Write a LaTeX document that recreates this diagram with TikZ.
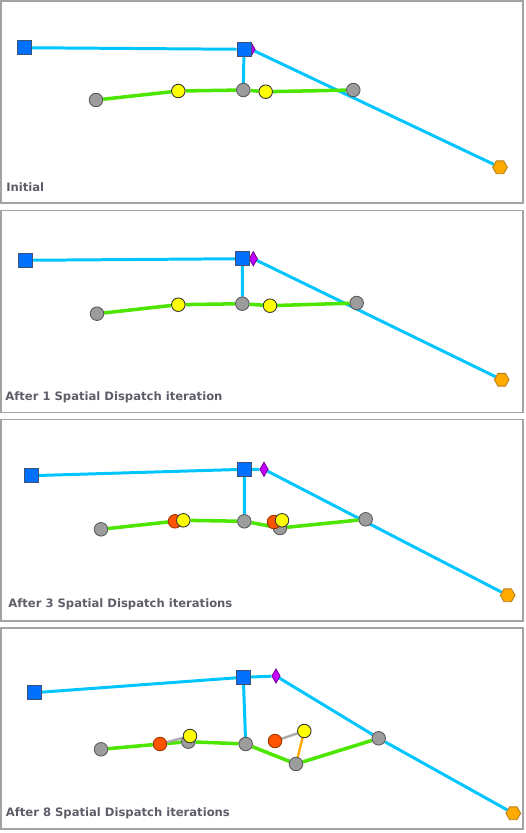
\documentclass[tikz,border=0pt]{standalone}
\usepackage{fontspec}
\setsansfont{DejaVu Sans}
\usetikzlibrary{shapes.geometric,backgrounds}
\definecolor{frame}{HTML}{A3A3A3}
\definecolor{caption}{HTML}{5E5E6A}
\definecolor{sqblue}{HTML}{0070FF}
\definecolor{sqedge}{HTML}{3E5276}
\definecolor{link}{HTML}{00C5FF}
\definecolor{route}{HTML}{4CE600}
\definecolor{stop}{HTML}{9C9C9C}
\definecolor{stopedge}{HTML}{5A5A5A}
\definecolor{pick}{HTML}{FFFF00}
\definecolor{drop}{HTML}{FF5500}
\definecolor{amber}{HTML}{FFAA00}
\definecolor{amberedge}{HTML}{B8801C}
\definecolor{violet}{HTML}{C500FF}

\begin{document}
\begin{tikzpicture}[x=0.02cm,y=-0.02cm,
  font=\sffamily\bfseries\fontsize{6.6}{7.8}\selectfont,text=caption,
  box/.style={draw=frame,line width=1.1pt},
  lbl/.style={anchor=base west,inner sep=0pt},
  sq/.style={rectangle,fill=sqblue,draw=sqedge,line width=0.5pt,
    minimum size=7.9pt,inner sep=0pt},
  dot/.style={circle,line width=0.5pt,minimum size=7.7pt,inner sep=0pt},
  gnode/.style={dot,fill=stop,draw=stopedge},
  ynode/.style={dot,fill=pick,draw=black!80},
  rnode/.style={dot,fill=drop,draw=drop!60!black},
  hexa/.style={regular polygon,regular polygon sides=6,fill=amber,
    draw=amberedge,line width=0.5pt,minimum size=8.4pt,inner sep=0pt},
  dia/.style={diamond,fill=violet,draw=violet!60!black,line width=0.5pt,
    minimum width=4.8pt,minimum height=8.2pt,inner sep=0pt},
  blink/.style={link,line width=1.7pt},
  glink/.style={route,line width=2pt},
  slink/.style={stop!85!white,line width=1.4pt},
  olink/.style={amber,line width=1.4pt}]
  \useasboundingbox (0,0) rectangle (525,833);

  % Initial
  \draw[box] (1,1) rectangle (523.3,203);
  \node[dia] (dA) at (251,49.3) {};
  \node[sq] (sA1) at (24,47.7) {};
  \node[sq] (sA2) at (244,49.3) {};
  \node[hexa] (hA) at (500,167.3) {};
  \node[gnode] (gA1) at (96,100) {};
  \node[ynode] (yA1) at (178.3,91) {};
  \node[gnode] (gA2) at (243.3,90) {};
  \node[ynode] (yA2) at (265.7,91.7) {};
  \node[gnode] (gA3) at (353.3,90) {};
  \node[lbl] (cA) at (6,191.5) {Initial};
  \begin{scope}[on background layer]
    \draw[blink] (sA1) -- (sA2) -- (gA2);
    \draw[blink] (dA) -- (hA);
    \draw[glink] (gA1) -- (yA1) -- (gA2) -- (yA2) -- (gA3);
  \end{scope}

  % After 1
  \draw[box] (1,210.5) rectangle (523.3,412.5);
  \node[dia] (dB) at (253.3,258.7) {};
  \node[sq] (sB1) at (25,260.3) {};
  \node[sq] (sB2) at (242.3,258.7) {};
  \node[hexa] (hB) at (501.7,379.7) {};
  \node[gnode] (gB1) at (97,313.7) {};
  \node[ynode] (yB1) at (178.3,304.7) {};
  \node[gnode] (gB2) at (242.3,303.7) {};
  \node[ynode] (yB2) at (270,305.7) {};
  \node[gnode] (gB3) at (356.7,303) {};
  \node[lbl] (cB) at (5,400) {After 1 Spatial Dispatch iteration};
  \begin{scope}[on background layer]
    \draw[blink] (sB1) -- (sB2) -- (gB2);
    \draw[blink] (dB) -- (hB);
    \draw[glink] (gB1) -- (yB1) -- (gB2) -- (yB2) -- (gB3);
  \end{scope}

  % After 3
  \draw[box] (1,419.5) rectangle (523.3,621);
  \node[dia] (dC) at (264,469.3) {};
  \node[sq] (sC1) at (31,475.7) {};
  \node[sq] (sC2) at (244.3,469.3) {};
  \node[hexa] (hC) at (507.7,595.3) {};
  \node[gnode] (gC1) at (101,529.3) {};
  \node[rnode] (rC1) at (175,521.3) {};
  \node[ynode] (yC1) at (183.3,520.3) {};
  \node[gnode] (gC2) at (244.3,521.3) {};
  \node[gnode] (gC4) at (280,528) {};
  \node[rnode] (rC2) at (274,522) {};
  \node[ynode] (yC2) at (282,520.3) {};
  \node[gnode] (gC3) at (365.7,519.3) {};
  \node[lbl] (cC) at (8,607.5) {After 3 Spatial Dispatch iterations};
  \begin{scope}[on background layer]
    \draw[blink] (sC1) -- (sC2) -- (gC2);
    \draw[blink] (sC2) -- (dC) -- (hC);
    \draw[glink] (gC1) -- (yC1) -- (gC2) -- (gC4) -- (gC3);
  \end{scope}

  % After 8
  \draw[box] (1,628.3) rectangle (523.3,829);
  \node[dia] (dD) at (276,676) {};
  \node[sq] (sD1) at (34,692.7) {};
  \node[sq] (sD2) at (243.3,677.3) {};
  \node[hexa] (hD) at (513.3,813.3) {};
  \node[gnode] (gD1) at (101,749.3) {};
  \node[rnode] (rD1) at (160,744) {};
  \node[gnode] (gD5) at (188.3,741.7) {};
  \node[ynode] (yD1) at (190,736) {};
  \node[gnode] (gD2) at (245.7,744) {};
  \node[rnode] (rD2) at (275,741) {};
  \node[ynode] (yD2) at (304.3,731) {};
  \node[gnode] (gD4) at (296,764) {};
  \node[gnode] (gD3) at (378.7,738.3) {};
  \node[lbl] (cD) at (5.5,816.8) {After 8 Spatial Dispatch iterations};
  \begin{scope}[on background layer]
    \draw[blink] (sD1) -- (sD2) -- (gD2);
    \draw[blink] (sD2) -- (dD) -- (gD3) -- (hD);
    \draw[glink] (gD1) -- (rD1) -- (gD5) -- (gD2) -- (gD4) -- (gD3);
    \draw[slink] (rD1) -- (yD1);
    \draw[slink] (rD2) -- (yD2);
    \draw[olink] (yD2) -- (gD4);
  \end{scope}
\end{tikzpicture}
\end{document}
